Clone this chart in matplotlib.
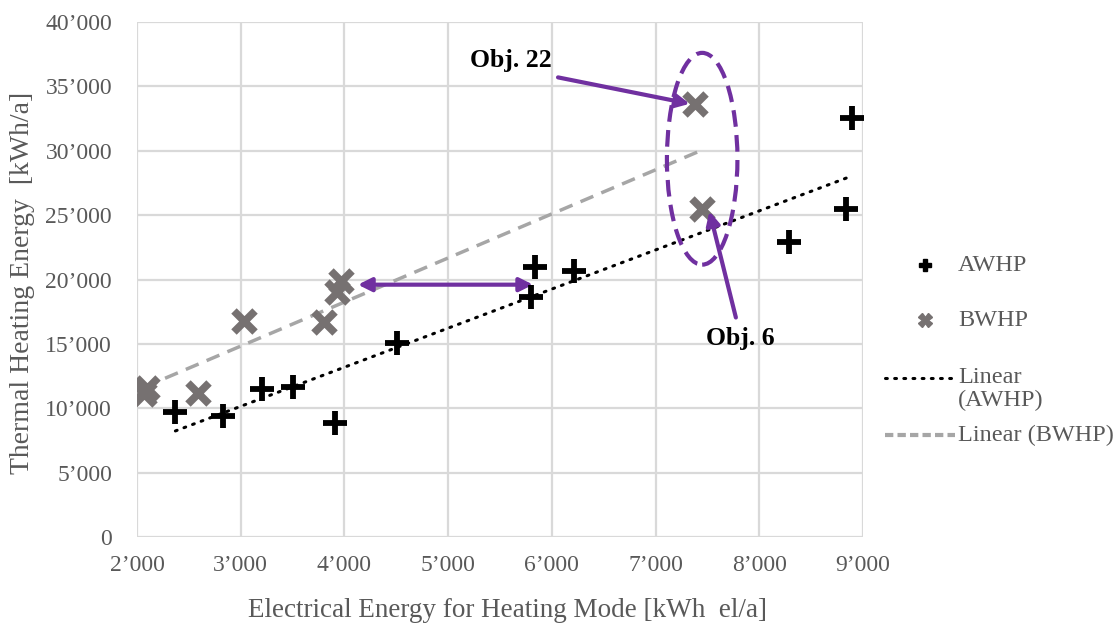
import numpy as np
import matplotlib.pyplot as plt
from matplotlib.patches import Ellipse
from matplotlib.ticker import FuncFormatter

plt.rcParams['font.family'] = ['Liberation Serif', 'DejaVu Serif']

# ----------------------------
# data
# ----------------------------
awhp_x = [2370, 2830, 3205, 3505, 3910, 4505, 5800, 5840, 6215, 8290, 8840, 8895]
awhp_y = [9700, 9400, 11500, 11650, 8850, 15050, 18650, 21000, 20700, 22900, 25500, 32550]

bwhp_x = [2070, 2100, 2590, 3030, 3800, 3930, 3970, 7380, 7450]
bwhp_y = [11100, 11600, 11150, 16800, 16700, 19000, 19850, 33650, 25500]

x_ticks = np.arange(2000, 9001, 1000)
y_ticks = np.arange(0, 40001, 5000)

legend_labels = ["AWHP", "BWHP", "Linear", "(AWHP)", "Linear (BWHP)"]

purple = "#7030A0"
txt_gray = "#595959"
x_gray = "#767171"
fs = 17


def fmt(v, pos):
    return f"{int(v):,}".replace(",", "\u2019")


fig = plt.figure(figsize=(11.15, 6.24), dpi=100)
ax = fig.add_axes([0.1229, 0.1394, 0.651, 0.8253])

ax.set_xlim(2000, 9000)
ax.set_ylim(0, 40000)
ax.set_xticks(x_ticks)
ax.set_yticks(y_ticks)
ax.xaxis.set_major_formatter(FuncFormatter(fmt))
ax.yaxis.set_major_formatter(FuncFormatter(fmt))
ax.grid(True, color="#D9D9D9", lw=1.6)
ax.set_axisbelow(True)
for s in ax.spines.values():
    s.set_visible(False)
ax.tick_params(length=0, labelsize=fs, colors=txt_gray)
ax.tick_params(axis="y", pad=18)
ax.tick_params(axis="x", pad=13)

# trend lines
pa = np.polyfit(awhp_x, awhp_y, 1)
pb = np.polyfit(bwhp_x, bwhp_y, 1)
xa = np.array([min(awhp_x), max(awhp_x)])
xb = np.array([min(bwhp_x), max(bwhp_x)])
ax.plot(xb, np.polyval(pb, xb), color="#A6A6A6", lw=2.5, ls=(0, (4, 2.5)), zorder=2)
ax.plot(xa, np.polyval(pa, xa), color="black", lw=2.2, ls=(0, (0.6, 2.4)),
        dash_capstyle="round", zorder=2)

ax.scatter(bwhp_x, bwhp_y, marker="x", s=230, linewidths=5.5, color=x_gray, zorder=3)
ax.scatter(awhp_x, awhp_y, marker="+", s=280, linewidths=4.2, color="black", zorder=4)

# annotations
arrow = dict(arrowstyle="-|>,head_length=0.8,head_width=0.4", color=purple, lw=3,
             shrinkA=0, shrinkB=0)
ax.add_patch(Ellipse((7450, 29380), 680, 16450, fill=False, ec=purple, lw=3,
                     ls=(0, (4, 2)), zorder=5))
ax.text(6000, 37050, "Obj. 22", fontsize=18.5, fontweight="bold", ha="right", va="center")
ax.annotate("", xy=(7330, 33650), xytext=(6060, 35700), arrowprops=arrow)
ax.text(7815, 15450, "Obj. 6", fontsize=18.5, fontweight="bold", ha="center", va="center")
ax.annotate("", xy=(7520, 25300), xytext=(7775, 17050), arrowprops=arrow)
ax.annotate("", xy=(4130, 19600), xytext=(5820, 19600),
            arrowprops=dict(arrow, arrowstyle="<|-|>,head_length=0.8,head_width=0.4"))

ax.set_xlabel("Electrical Energy for Heating Mode [kWh  el/a]", fontsize=19.5,
              color=txt_gray, va="center")
ax.xaxis.set_label_coords(0.511, -0.142)
ax.set_ylabel("Thermal Heating Energy  [kWh/a]", fontsize=20, color=txt_gray,
              va="center")
ax.yaxis.set_label_coords(-0.158, 0.493)

# legend, drawn by hand to keep the Excel layout
T = ax.transAxes
lx, tx = 1.085, 1.131
ax.plot([lx], [0.528], marker="P", ms=9, color="black", transform=T, clip_on=False)
ax.plot([lx], [0.421], marker="X", ms=10, color=x_gray, transform=T, clip_on=False)
ax.plot([1.030, 1.127], [0.309, 0.309], color="black", lw=2.2, ls=(0, (0.6, 2.4)),
        dash_capstyle="round", transform=T, clip_on=False)
ax.plot([1.030, 1.127], [0.198, 0.198], color="#A6A6A6", lw=3, ls=(0, (2, 1)),
        transform=T, clip_on=False)
for lab, ly in zip(legend_labels, [0.528, 0.421, 0.309, 0.266, 0.198]):
    ax.text(tx, ly, lab, fontsize=17.5, color=txt_gray, va="center", ha="left",
            transform=T)

fig.savefig("out.png", dpi=100)
